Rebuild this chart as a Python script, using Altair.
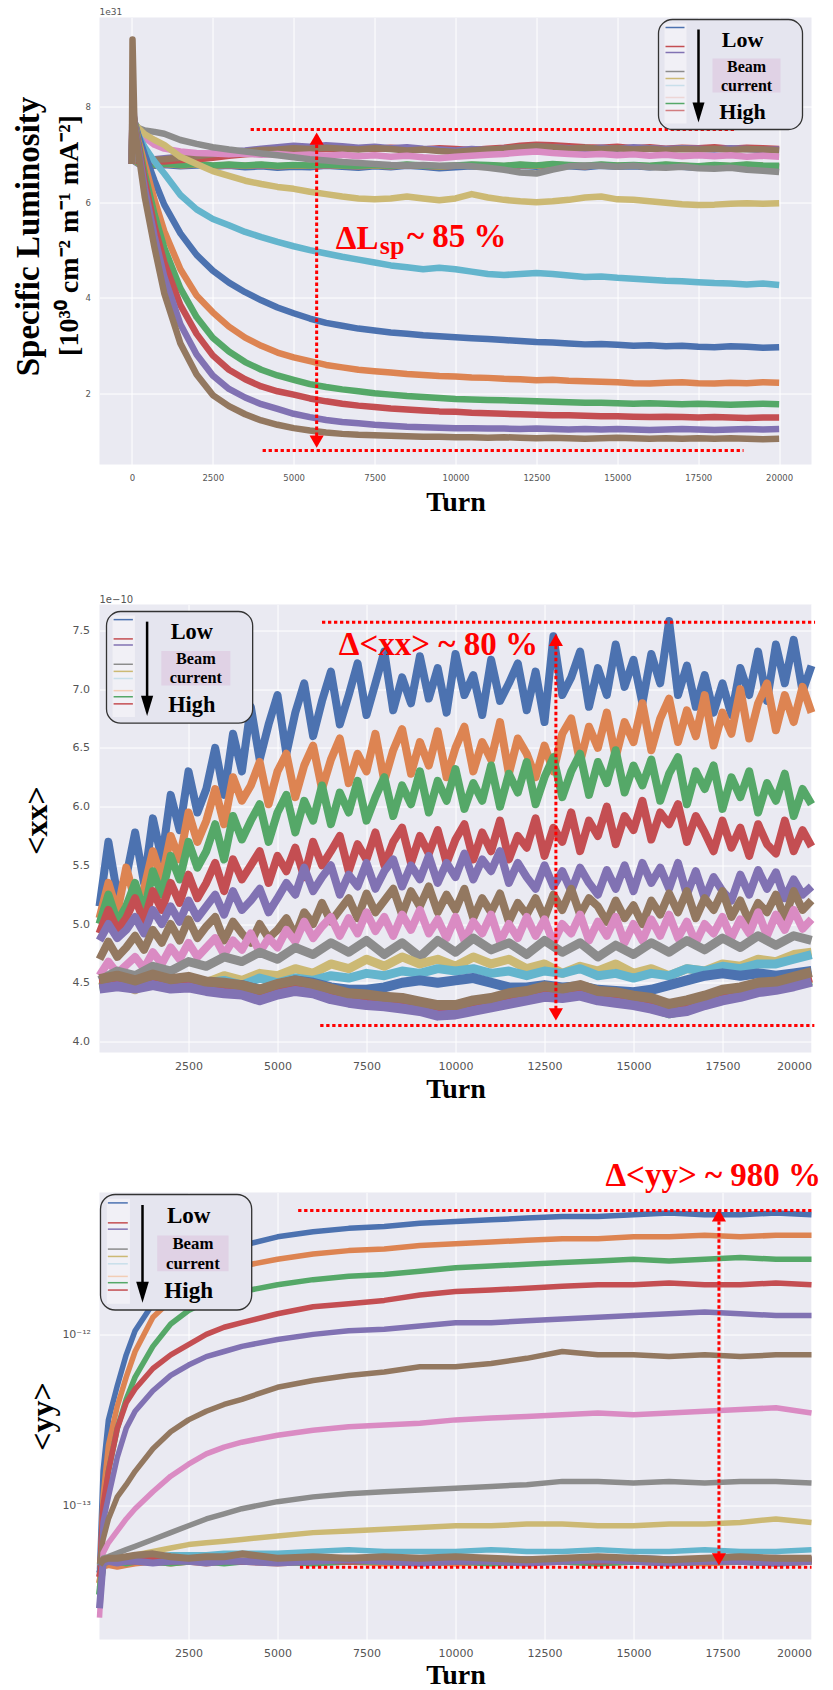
import altair as alt
import pandas as pd

# ---------------------------------------------------------------- styling
C = {
    "blue": "#4C72B0", "orange": "#DD8452", "green": "#55A868", "red": "#C44E52",
    "purple": "#8172B3", "brown": "#937860", "pink": "#DA8BC3", "gray": "#8C8C8C",
    "olive": "#CCB974", "cyan": "#64B5CD",
}
FACE = "#EAEAF2"
RED = "#FF0000"
SERIF = "Liberation Serif"
SANS = "DejaVu Sans"
TICK_GREY = "#555555"

W = 712
H1, H2, H3 = 447, 448, 447

# ---------------------------------------------------------------- panel 1: specific luminosity (x 1e31)
T1 = [0, 20, 80, 200, 400, 700, 1000, 1500, 2000, 2500, 3000, 3500,
      4000, 4500, 5000, 5500, 6000, 6500, 7000, 7500, 8000, 8500, 9000, 9500,
      10000, 10500, 11000, 11500, 12000, 12500, 13000, 13500, 14000, 14500,
      15000, 15500, 16000, 16500, 17000, 17500, 18000, 18500, 19000, 19500, 20000]

LSP_C_BLUE = [6.80, 7.20, 6.85, 6.80, 6.78, 6.76, 6.78, 6.75, 6.77, 6.74,
              6.76, 6.73, 6.75, 6.72, 6.74, 6.73, 6.76, 6.74, 6.72, 6.75,
              6.73, 6.76, 6.74, 6.71, 6.73, 6.75, 6.74, 6.72, 6.76, 6.74,
              6.77, 6.75, 6.73, 6.76, 6.74, 6.75, 6.73, 6.76, 6.74, 6.72,
              6.75, 6.73, 6.76, 6.74, 6.73]
LSP_C_ORANGE = [6.80, 7.40, 6.86, 6.81, 6.79, 6.78, 6.80, 6.77, 6.79, 6.76,
                6.78, 6.76, 6.78, 6.75, 6.77, 6.76, 6.78, 6.76, 6.75, 6.77,
                6.75, 6.78, 6.76, 6.74, 6.76, 6.78, 6.77, 6.75, 6.78, 6.76,
                6.79, 6.77, 6.75, 6.78, 6.76, 6.77, 6.75, 6.78, 6.76, 6.74,
                6.77, 6.75, 6.78, 6.76, 6.75]
LSP_C_GREEN = [6.80, 7.50, 6.88, 6.82, 6.80, 6.79, 6.81, 6.78, 6.80, 6.77,
               6.79, 6.77, 6.79, 6.76, 6.78, 6.77, 6.79, 6.77, 6.76, 6.78,
               6.76, 6.79, 6.77, 6.75, 6.77, 6.79, 6.78, 6.76, 6.79, 6.77,
               6.80, 6.78, 6.76, 6.79, 6.77, 6.78, 6.76, 6.79, 6.77, 6.75,
               6.78, 6.76, 6.79, 6.77, 6.76]
LSP_C_RED = [6.80, 8.00, 6.90, 6.85, 6.84, 6.86, 6.85, 6.88, 6.90, 6.93,
             6.97, 7.00, 7.03, 7.05, 7.08, 7.10, 7.12, 7.10, 7.13, 7.11,
             7.14, 7.12, 7.10, 7.13, 7.11, 7.09, 7.12, 7.14, 7.18, 7.20,
             7.19, 7.17, 7.15, 7.14, 7.16, 7.13, 7.15, 7.12, 7.14, 7.13,
             7.15, 7.12, 7.14, 7.13, 7.11]
LSP_C_PURPLE = [6.80, 7.60, 6.95, 6.90, 6.88, 6.90, 6.92, 6.95, 6.98, 7.02,
                7.05, 7.08, 7.12, 7.15, 7.18, 7.16, 7.19, 7.17, 7.14, 7.16,
                7.13, 7.15, 7.12, 7.10, 7.08, 7.11, 7.09, 7.12, 7.14, 7.16,
                7.15, 7.13, 7.11, 7.14, 7.12, 7.15, 7.13, 7.11, 7.13, 7.12,
                7.10, 7.13, 7.11, 7.09, 7.10]
LSP_C_BROWN = [6.80, 7.80, 6.92, 6.88, 6.87, 6.89, 6.90, 6.93, 6.96, 7.00,
               7.03, 7.06, 7.09, 7.10, 7.13, 7.11, 7.14, 7.12, 7.10, 7.13,
               7.11, 7.08, 7.10, 7.07, 7.05, 7.08, 7.10, 7.12, 7.15, 7.17,
               7.15, 7.12, 7.14, 7.11, 7.13, 7.10, 7.12, 7.09, 7.11, 7.10,
               7.12, 7.09, 7.11, 7.10, 7.08]
LSP_PINK = [6.80, 7.70, 7.60, 7.50, 7.35, 7.20, 7.12, 7.06, 7.03, 7.02,
            7.00, 7.02, 6.99, 7.01, 6.98, 7.00, 6.97, 6.99, 6.96, 6.98,
            6.95, 6.97, 6.94, 6.92, 6.95, 6.97, 6.99, 7.01, 7.04, 7.06,
            7.03, 7.01, 6.99, 7.01, 6.98, 7.00, 6.97, 6.99, 6.96, 6.98,
            6.96, 6.98, 6.95, 6.97, 6.95]
LSP_GRAY = [6.80, 7.70, 7.65, 7.55, 7.50, 7.47, 7.43, 7.30, 7.22, 7.15,
            7.10, 7.06, 7.02, 6.98, 6.94, 6.90, 6.87, 6.84, 6.82, 6.80,
            6.78, 6.77, 6.78, 6.76, 6.77, 6.75, 6.72, 6.68, 6.62, 6.60,
            6.68, 6.75, 6.77, 6.76, 6.74, 6.76, 6.73, 6.72, 6.74, 6.71,
            6.70, 6.72, 6.68, 6.66, 6.63]
LSP_OLIVE = [6.80, 7.75, 7.65, 7.55, 7.42, 7.30, 7.20, 6.95, 6.80, 6.65,
             6.55, 6.45, 6.38, 6.32, 6.28, 6.22, 6.17, 6.12, 6.08, 6.06,
             6.08, 6.12, 6.08, 6.04, 6.08, 6.17, 6.10, 6.05, 6.02, 6.00,
             6.02, 6.05, 6.10, 6.12, 6.06, 6.05, 6.02, 5.99, 5.96, 5.94,
             5.95, 5.97, 5.98, 5.97, 5.98]
LSP_CYAN = [6.80, 7.75, 7.60, 7.40, 7.15, 6.85, 6.60, 6.15, 5.85, 5.65,
            5.52, 5.38, 5.27, 5.17, 5.08, 5.00, 4.93, 4.86, 4.80, 4.74,
            4.68, 4.64, 4.60, 4.63, 4.60, 4.55, 4.50, 4.48, 4.50, 4.52,
            4.50, 4.47, 4.44, 4.45, 4.42, 4.40, 4.38, 4.36, 4.35, 4.33,
            4.31, 4.30, 4.28, 4.30, 4.27]
LSP_BLUE = [6.80, 8.00, 7.70, 7.40, 7.00, 6.45, 5.95, 5.35, 4.90, 4.57,
            4.32, 4.12, 3.95, 3.80, 3.68, 3.57, 3.48, 3.42, 3.36, 3.32,
            3.28, 3.25, 3.22, 3.20, 3.18, 3.16, 3.14, 3.12, 3.10, 3.08,
            3.07, 3.05, 3.03, 3.04, 3.02, 3.00, 3.01, 2.99, 3.00, 2.98,
            2.97, 2.99, 2.98, 2.96, 2.97]
LSP_ORANGE = [6.80, 8.00, 7.70, 7.30, 6.80, 6.05, 5.40, 4.60, 4.05, 3.70,
              3.40, 3.17, 3.00, 2.86, 2.76, 2.68, 2.60, 2.55, 2.50, 2.47,
              2.44, 2.41, 2.39, 2.37, 2.36, 2.34, 2.33, 2.31, 2.30, 2.28,
              2.29, 2.27, 2.26, 2.25, 2.24, 2.22, 2.21, 2.23, 2.24, 2.22,
              2.21, 2.23, 2.22, 2.24, 2.23]
LSP_GREEN = [6.80, 7.90, 7.70, 7.25, 6.60, 5.75, 5.05, 4.20, 3.60, 3.17,
             2.88, 2.66, 2.50, 2.38, 2.29, 2.20, 2.14, 2.09, 2.05, 2.01,
             1.98, 1.95, 1.93, 1.91, 1.89, 1.88, 1.87, 1.86, 1.85, 1.84,
             1.83, 1.82, 1.81, 1.81, 1.80, 1.79, 1.80, 1.79, 1.78, 1.79,
             1.78, 1.77, 1.78, 1.79, 1.78]
LSP_RED = [6.80, 8.00, 7.65, 7.20, 6.45, 5.50, 4.75, 3.85, 3.25, 2.80,
           2.50, 2.30, 2.15, 2.05, 1.98, 1.90, 1.84, 1.79, 1.75, 1.72,
           1.69, 1.67, 1.65, 1.63, 1.62, 1.60, 1.59, 1.58, 1.57, 1.56,
           1.55, 1.55, 1.54, 1.53, 1.53, 1.52, 1.51, 1.52, 1.51, 1.50,
           1.51, 1.50, 1.49, 1.50, 1.50]
LSP_PURPLE = [6.80, 8.30, 7.65, 7.15, 6.30, 5.30, 4.45, 3.45, 2.82, 2.38,
              2.10, 1.92, 1.78, 1.68, 1.58, 1.51, 1.45, 1.41, 1.38, 1.35,
              1.33, 1.31, 1.30, 1.29, 1.28, 1.28, 1.27, 1.27, 1.26, 1.27,
              1.26, 1.25, 1.26, 1.25, 1.26, 1.25, 1.24, 1.25, 1.26, 1.25,
              1.24, 1.25, 1.26, 1.25, 1.26]
LSP_BROWN = [6.80, 9.40, 7.60, 7.05, 6.10, 5.05, 4.10, 3.05, 2.40, 1.97,
             1.74, 1.57, 1.44, 1.35, 1.28, 1.23, 1.19, 1.16, 1.14, 1.13,
             1.12, 1.11, 1.10, 1.10, 1.09, 1.09, 1.08, 1.09, 1.08, 1.07,
             1.08, 1.07, 1.06, 1.07, 1.08, 1.07, 1.06, 1.07, 1.06, 1.07,
             1.06, 1.07, 1.06, 1.05, 1.06]

# ---------------------------------------------------------------- panel 2: <xx> (x 1e-10)
T_FINE = list(range(0, 20001, 250))
T_COARSE = list(range(0, 20001, 500))

XX_BLUE = [5.15, 5.70, 5.25, 5.40, 5.78, 5.35, 5.90, 5.55, 6.10, 5.80,
           6.30, 5.95, 6.15, 6.50, 6.10, 6.62, 6.30, 6.85, 6.40, 6.70,
           6.95, 6.45, 6.80, 7.05, 6.60, 6.90, 7.15, 6.70, 6.95, 7.22,
           6.78, 7.05, 7.32, 6.82, 7.10, 6.88, 7.28, 6.92, 7.18, 6.80,
           7.30, 6.95, 7.12, 6.78, 7.25, 6.90, 7.05, 7.22, 6.82, 7.15,
           6.72, 7.45, 6.95, 7.10, 7.32, 6.85, 7.18, 6.95, 7.38, 7.02,
           7.25, 6.88, 7.30, 7.05, 7.58, 6.95, 7.20, 6.85, 7.12, 6.80,
           7.05, 6.78, 7.18, 6.95, 7.32, 6.90, 7.38, 7.05, 7.42, 6.98,
           7.20]
XX_ORANGE = [5.05, 5.35, 5.10, 5.48, 5.20, 5.30, 5.62, 5.38, 5.75, 5.55,
             5.95, 5.70, 5.88, 6.15, 5.85, 6.25, 6.05, 6.18, 6.38, 6.02,
             6.30, 6.45, 6.08, 6.35, 6.52, 6.15, 6.40, 6.58, 6.20, 6.45,
             6.30, 6.62, 6.22, 6.48, 6.66, 6.28, 6.55, 6.35, 6.64, 6.25,
             6.50, 6.68, 6.30, 6.55, 6.40, 6.72, 6.28, 6.58, 6.45, 6.25,
             6.52, 6.30, 6.62, 6.75, 6.38, 6.68, 6.50, 6.80, 6.42, 6.72,
             6.55, 6.88, 6.48, 6.75, 6.92, 6.55, 6.82, 6.60, 6.95, 6.52,
             6.80, 6.62, 7.00, 6.58, 6.88, 7.05, 6.65, 6.95, 6.72, 7.02,
             6.80]
XX_GREEN = [5.00, 5.25, 5.02, 5.15, 5.35, 5.10, 5.45, 5.25, 5.58, 5.38,
            5.70, 5.48, 5.62, 5.85, 5.55, 5.92, 5.72, 5.88, 6.02, 5.70,
            5.95, 6.10, 5.78, 6.05, 5.88, 6.18, 5.85, 6.12, 5.95, 6.22,
            5.88, 6.08, 6.25, 5.92, 6.18, 6.02, 6.30, 5.95, 6.22, 6.05,
            6.32, 5.98, 6.20, 6.05, 6.35, 6.00, 6.28, 6.12, 6.38, 6.02,
            6.25, 6.42, 6.08, 6.30, 6.45, 6.10, 6.38, 6.20, 6.48, 6.12,
            6.35, 6.18, 6.40, 6.05, 6.28, 6.42, 6.02, 6.30, 6.15, 6.35,
            5.98, 6.25, 6.08, 6.30, 5.95, 6.20, 6.05, 6.28, 5.92, 6.15,
            6.02]
XX_RED = [4.92, 5.12, 4.95, 5.05, 5.22, 5.02, 5.28, 5.12, 5.35, 5.18,
          5.42, 5.22, 5.35, 5.52, 5.28, 5.55, 5.38, 5.50, 5.62, 5.35,
          5.58, 5.45, 5.65, 5.40, 5.70, 5.50, 5.62, 5.75, 5.45, 5.68,
          5.55, 5.78, 5.50, 5.70, 5.82, 5.52, 5.75, 5.60, 5.80, 5.52,
          5.72, 5.85, 5.55, 5.78, 5.62, 5.88, 5.55, 5.75, 5.65, 5.90,
          5.58, 5.82, 5.70, 5.95, 5.62, 5.88, 5.75, 6.00, 5.68, 5.92,
          5.80, 6.05, 5.72, 5.95, 5.85, 6.02, 5.70, 5.92, 5.78, 5.62,
          5.88, 5.65, 5.82, 5.58, 5.85, 5.68, 5.60, 5.88, 5.62, 5.80,
          5.66]
XX_PURPLE = [4.86, 5.00, 4.88, 4.95, 5.06, 4.92, 5.12, 5.00, 5.15, 5.02,
             5.20, 5.05, 5.15, 5.25, 5.08, 5.28, 5.12, 5.20, 5.30, 5.10,
             5.22, 5.35, 5.25, 5.48, 5.28, 5.40, 5.50, 5.25, 5.42, 5.32,
             5.52, 5.30, 5.45, 5.55, 5.32, 5.50, 5.38, 5.58, 5.35, 5.52,
             5.40, 5.60, 5.38, 5.55, 5.45, 5.62, 5.35, 5.52, 5.40, 5.30,
             5.50, 5.32, 5.45, 5.28, 5.48, 5.35, 5.25, 5.46, 5.30, 5.50,
             5.28, 5.52, 5.35, 5.48, 5.30, 5.52, 5.25, 5.45, 5.22, 5.40,
             5.28, 5.20, 5.42, 5.25, 5.46, 5.30, 5.44, 5.22, 5.38, 5.25,
             5.32]
XX_BROWN = [4.70, 4.85, 4.72, 4.80, 4.90, 4.78, 4.95, 4.84, 5.00, 4.86,
            5.04, 4.88, 4.98, 5.06, 4.86, 5.02, 4.92, 4.84, 5.00, 4.88,
            4.95, 5.05, 4.90, 5.10, 5.00, 5.18, 5.02, 5.12, 5.22, 5.05,
            5.26, 5.10, 5.20, 5.30, 5.08, 5.28, 5.15, 5.32, 5.10, 5.25,
            5.12, 5.30, 5.05, 5.22, 5.10, 5.26, 5.02, 5.18, 5.08, 5.22,
            5.05, 5.25, 5.12, 5.30, 5.08, 5.22, 5.15, 5.02, 5.20, 5.05,
            5.16, 5.00, 5.20, 5.08, 5.26, 5.10, 5.28, 5.05, 5.22, 5.12,
            5.28, 5.06, 5.20, 5.02, 5.18, 5.10, 5.25, 5.05, 5.28, 5.12,
            5.20]
XX_PINK = [4.56, 4.68, 4.58, 4.65, 4.72, 4.62, 4.76, 4.66, 4.80, 4.70,
           4.84, 4.72, 4.80, 4.88, 4.74, 4.86, 4.78, 4.92, 4.76, 4.88,
           4.80, 4.95, 4.85, 5.02, 4.88, 4.98, 5.06, 4.90, 5.05, 4.92,
           5.10, 4.94, 5.06, 4.90, 5.08, 4.95, 5.12, 4.92, 5.04, 4.88,
           5.06, 4.86, 5.02, 4.92, 5.08, 4.85, 5.00, 4.88, 5.06, 4.90,
           5.04, 4.84, 5.00, 4.92, 5.08, 4.86, 5.02, 4.90, 5.06, 4.84,
           5.00, 4.86, 5.04, 4.90, 5.08, 4.88, 5.02, 4.84, 5.00, 4.92,
           5.06, 4.88, 5.04, 4.92, 5.10, 4.90, 5.08, 4.95, 5.12, 4.96,
           5.04]
XX_GRAY = [4.52, 4.60, 4.56, 4.64, 4.60, 4.68, 4.64, 4.72, 4.68, 4.76,
           4.70, 4.80, 4.74, 4.84, 4.76, 4.86, 4.74, 4.84, 4.72, 4.86,
           4.76, 4.88, 4.78, 4.84, 4.74, 4.86, 4.76, 4.84, 4.72, 4.82,
           4.74, 4.84, 4.76, 4.86, 4.78, 4.88, 4.80, 4.90, 4.82, 4.90,
           4.86]
XX_OLIVE = [4.46, 4.50, 4.44, 4.52, 4.48, 4.54, 4.50, 4.56, 4.52, 4.58,
            4.56, 4.62, 4.58, 4.66, 4.62, 4.70, 4.64, 4.72, 4.66, 4.70,
            4.64, 4.72, 4.66, 4.70, 4.62, 4.66, 4.58, 4.64, 4.60, 4.66,
            4.58, 4.62, 4.56, 4.62, 4.60, 4.66, 4.64, 4.70, 4.68, 4.74,
            4.76]
XX_CYAN = [4.48, 4.50, 4.46, 4.52, 4.48, 4.54, 4.50, 4.52, 4.48, 4.54,
           4.50, 4.54, 4.52, 4.56, 4.54, 4.58, 4.56, 4.60, 4.58, 4.62,
           4.60, 4.62, 4.58, 4.60, 4.56, 4.60, 4.58, 4.62, 4.56, 4.58,
           4.54, 4.58, 4.56, 4.62, 4.60, 4.64, 4.62, 4.66, 4.66, 4.70,
           4.74]
XX_C_BLUE = [4.50, 4.52, 4.50, 4.53, 4.50, 4.51, 4.49, 4.47, 4.48, 4.44,
             4.48, 4.52, 4.50, 4.46, 4.44, 4.44, 4.46, 4.50, 4.52, 4.50,
             4.52, 4.54, 4.50, 4.46, 4.46, 4.48, 4.46, 4.47, 4.44, 4.43,
             4.42, 4.44, 4.48, 4.52, 4.56, 4.58, 4.56, 4.58, 4.56, 4.58,
             4.60]
XX_C_ORANGE = [4.48, 4.50, 4.47, 4.50, 4.48, 4.49, 4.46, 4.44, 4.43, 4.38,
               4.43, 4.46, 4.44, 4.39, 4.36, 4.34, 4.33, 4.31, 4.29, 4.25,
               4.26, 4.29, 4.32, 4.35, 4.38, 4.41, 4.42, 4.43, 4.38, 4.36,
               4.34, 4.31, 4.27, 4.29, 4.34, 4.38, 4.41, 4.44, 4.46, 4.50,
               4.54]
XX_C_GREEN = [4.46, 4.48, 4.46, 4.49, 4.46, 4.47, 4.44, 4.42, 4.41, 4.36,
              4.41, 4.44, 4.42, 4.37, 4.34, 4.32, 4.31, 4.29, 4.27, 4.23,
              4.24, 4.27, 4.30, 4.33, 4.36, 4.39, 4.38, 4.40, 4.36, 4.34,
              4.32, 4.29, 4.24, 4.27, 4.32, 4.36, 4.39, 4.43, 4.45, 4.48,
              4.52]
XX_C_RED = [4.49, 4.51, 4.49, 4.52, 4.49, 4.50, 4.47, 4.45, 4.44, 4.39,
            4.44, 4.47, 4.45, 4.40, 4.37, 4.35, 4.34, 4.32, 4.30, 4.26,
            4.27, 4.30, 4.33, 4.36, 4.39, 4.42, 4.41, 4.43, 4.39, 4.37,
            4.35, 4.32, 4.28, 4.30, 4.35, 4.39, 4.42, 4.45, 4.47, 4.51,
            4.55]
XX_C_PURPLE = [4.45, 4.47, 4.45, 4.48, 4.45, 4.46, 4.43, 4.41, 4.40, 4.35,
               4.40, 4.43, 4.41, 4.36, 4.33, 4.31, 4.30, 4.28, 4.26, 4.22,
               4.23, 4.26, 4.29, 4.32, 4.35, 4.38, 4.37, 4.39, 4.35, 4.33,
               4.31, 4.28, 4.24, 4.26, 4.31, 4.35, 4.38, 4.42, 4.44, 4.47,
               4.51]
XX_C_BROWN = [4.53, 4.56, 4.52, 4.57, 4.53, 4.55, 4.51, 4.50, 4.48, 4.44,
              4.49, 4.52, 4.49, 4.45, 4.41, 4.40, 4.38, 4.37, 4.34, 4.31,
              4.31, 4.35, 4.37, 4.41, 4.43, 4.47, 4.45, 4.48, 4.43, 4.42,
              4.39, 4.37, 4.32, 4.35, 4.39, 4.44, 4.46, 4.50, 4.51, 4.55,
              4.59]

# ---------------------------------------------------------------- panel 3: <yy>, in units of 1e-13
T3 = [0, 100, 250, 500, 750, 1000, 1500, 2000, 2500, 3000, 3500, 4000, 5000,
      6000, 7000, 8000, 9000, 10000, 11000, 12000, 13000, 14000, 15000, 16000,
      17000, 18000, 19000, 20000]
YY_UNIT = 1e-13

YY_BLUE = [0.42, 1.58, 3.16, 5.01, 7.59, 10.5, 15.1, 20.0, 24.0, 27.5, 30.2, 33.1, 37.2, 39.8,
           41.7, 42.7, 44.7, 45.7, 46.8, 47.9, 49.0, 49.0, 50.1, 51.3, 50.1, 50.1, 51.3, 50.1]
YY_ORANGE = [0.35, 1.12, 2.24, 3.80, 5.62, 7.94, 12.6, 15.8, 19.1, 21.9, 23.4, 25.1, 27.5, 29.5,
             30.9, 31.6, 33.1, 33.9, 34.7, 35.5, 36.3, 36.3, 37.2, 37.2, 38.0, 37.2, 38.0, 38.0]
YY_GREEN = [0.30, 0.891, 1.58, 2.82, 4.17, 5.62, 8.51, 11.5, 13.8, 15.5, 16.6, 17.8, 19.5, 20.9,
            21.9, 22.4, 23.4, 24.5, 25.1, 25.7, 26.3, 26.9, 27.5, 26.9, 27.5, 28.2, 27.5, 27.5]
YY_RED = [0.38, 1.00, 1.58, 2.82, 3.98, 4.79, 6.31, 7.59, 8.71, 10.0, 11.0, 11.7, 13.2, 14.5,
          15.1, 15.8, 17.0, 17.8, 18.2, 18.6, 19.1, 19.5, 19.5, 20.0, 19.5, 19.5, 20.0, 19.5]
YY_PURPLE = [0.25, 0.794, 1.12, 1.91, 2.82, 3.55, 4.68, 5.75, 6.61, 7.41, 7.94, 8.51, 9.33, 10.0,
             10.5, 10.7, 11.2, 11.7, 11.7, 12.0, 12.3, 12.6, 12.9, 13.2, 13.5, 13.2, 12.9, 12.9]
YY_BROWN = [0.45, 0.631, 0.832, 1.12, 1.32, 1.58, 2.14, 2.69, 3.16, 3.55, 3.89, 4.17, 4.90, 5.37,
            5.75, 6.03, 6.46, 6.46, 6.76, 7.24, 7.94, 7.59, 7.59, 7.41, 7.59, 7.41, 7.59, 7.59]
YY_PINK = [0.22, 0.525, 0.603, 0.708, 0.832, 0.955, 1.20, 1.48, 1.74, 2.00, 2.19, 2.34, 2.57, 2.75,
           2.88, 2.95, 3.02, 3.16, 3.24, 3.31, 3.39, 3.47, 3.39, 3.47, 3.55, 3.63, 3.72, 3.47]
YY_GRAY = [0.40, 0.490, 0.501, 0.525, 0.550, 0.575, 0.631, 0.692, 0.759, 0.832, 0.891, 0.955, 1.05,
           1.12, 1.17, 1.20, 1.23, 1.26, 1.29, 1.32, 1.38, 1.38, 1.35, 1.38, 1.35, 1.38, 1.38, 1.35]
YY_OLIVE = [0.33, 0.479, 0.490, 0.490, 0.501, 0.513, 0.537, 0.562, 0.589, 0.603, 0.617, 0.631,
            0.661, 0.692, 0.708, 0.724, 0.741, 0.759, 0.759, 0.776, 0.776, 0.759, 0.759, 0.776,
            0.776, 0.794, 0.832, 0.794]
YY_CYAN = [0.44, 0.479, 0.490, 0.490, 0.501, 0.501, 0.501, 0.513, 0.513, 0.513, 0.525, 0.525,
           0.525, 0.537, 0.550, 0.537, 0.537, 0.537, 0.550, 0.537, 0.537, 0.550, 0.537, 0.537,
           0.550, 0.537, 0.537, 0.550]
YY_C_BLUE = [0.40, 0.47, 0.48, 0.47, 0.48, 0.49, 0.48, 0.47, 0.48, 0.49, 0.48, 0.47, 0.48, 0.48,
             0.49, 0.48, 0.47, 0.49, 0.48, 0.48, 0.47, 0.48, 0.49, 0.48, 0.47, 0.48, 0.49, 0.48]
YY_C_ORANGE = [0.35, 0.44, 0.45, 0.44, 0.45, 0.46, 0.47, 0.46, 0.47, 0.46, 0.47, 0.47, 0.46, 0.47,
               0.47, 0.46, 0.47, 0.46, 0.47, 0.46, 0.47, 0.46, 0.47, 0.47, 0.46, 0.47, 0.46, 0.47]
YY_C_GREEN = [0.30, 0.46, 0.47, 0.47, 0.46, 0.47, 0.47, 0.46, 0.47, 0.47, 0.46, 0.47, 0.47, 0.46,
              0.47, 0.47, 0.46, 0.47, 0.46, 0.47, 0.47, 0.46, 0.47, 0.46, 0.47, 0.47, 0.46, 0.47]
YY_C_RED = [0.38, 0.47, 0.47, 0.48, 0.47, 0.47, 0.48, 0.47, 0.48, 0.47, 0.48, 0.47, 0.47, 0.48,
            0.47, 0.48, 0.47, 0.47, 0.48, 0.47, 0.48, 0.47, 0.48, 0.47, 0.47, 0.48, 0.47, 0.48]
YY_C_PURPLE = [0.25, 0.46, 0.47, 0.46, 0.47, 0.47, 0.46, 0.47, 0.47, 0.46, 0.47, 0.47, 0.46, 0.47,
               0.48, 0.47, 0.46, 0.47, 0.47, 0.46, 0.47, 0.48, 0.47, 0.46, 0.47, 0.47, 0.46, 0.47]
YY_C_BROWN = [0.45, 0.48, 0.49, 0.49, 0.50, 0.51, 0.52, 0.50, 0.49, 0.50, 0.50, 0.52, 0.49, 0.50,
              0.49, 0.50, 0.49, 0.50, 0.49, 0.48, 0.49, 0.50, 0.49, 0.48, 0.49, 0.50, 0.49, 0.49]

# swatch colours shown in the "beam current" keys
KEY_SWATCH_1 = ["#4C72B0", "#C44E52", "#8172B3", "#8C8C8C", "#CCB974",
                "#C8DFEA", "#EDD6D6", "#55A868", "#D27D80"]
KEY_SWATCH_23 = ["#4C72B0", "#C44E52", "#8172B3", "#8C8C8C", "#CCB974",
                 "#C8DFEA", "#F2CDB5", "#55A868", "#C44E52"]
KEY_SWATCH_Y = [8, 27, 33, 52, 59, 66, 78, 84, 91]

ONE = pd.DataFrame({"k": [0]})


# ---------------------------------------------------------------- helpers
class Frame:
    """Shared x/y scales and axes of one panel; every field-encoded layer reuses them."""

    def __init__(self, xs, ys, ax, ay):
        self.xs, self.ys, self.ax, self.ay = xs, ys, ax, ay

    def x(self, field="turn"):
        return alt.X(f"{field}:Q", scale=self.xs, axis=self.ax)

    def y(self, field="value"):
        return alt.Y(f"{field}:Q", scale=self.ys, axis=self.ay)


def series_frame(series, unit=1.0):
    rows = []
    for i, (name, colour, turns, vals) in enumerate(series):
        if len(turns) != len(vals):
            raise ValueError(f"{name}: {len(turns)} turns but {len(vals)} values")
        for t, v in zip(turns, vals):
            rows.append({"turn": t, "value": v * unit, "sid": f"{i:02d}-{name}", "hex": colour})
    return pd.DataFrame(rows)


def line_layer(fr, series, width, unit=1.0):
    return alt.Chart(series_frame(series, unit)).mark_line(
        strokeWidth=width, strokeJoin="round"
    ).encode(
        x=fr.x(), y=fr.y(),
        color=alt.Color("hex:N", scale=None),
        detail="sid:N",
    )


def h_dotted(fr, t0, t1, v):
    df = pd.DataFrame({"turn": [t0], "turn2": [t1], "value": [v]})
    return alt.Chart(df).mark_rule(color=RED, strokeWidth=3, strokeDash=[3.3, 2.7]).encode(
        x=fr.x(), x2="turn2:Q", y=fr.y())


def v_arrow(fr, t, v_top, v_bot):
    df = pd.DataFrame({"turn": [t], "value": [v_top], "value2": [v_bot]})
    shaft = alt.Chart(df).mark_rule(color=RED, strokeWidth=3, strokeDash=[3.3, 2.7]).encode(
        x=fr.x(), y=fr.y(), y2="value2:Q")
    up = alt.Chart(pd.DataFrame({"turn": [t], "value": [v_top]})).mark_point(
        shape="triangle-up", filled=True, color=RED, size=200, opacity=1).encode(
        x=fr.x(), y=fr.y())
    down = alt.Chart(pd.DataFrame({"turn": [t], "value": [v_bot]})).mark_point(
        shape="triangle-down", filled=True, color=RED, size=200, opacity=1).encode(
        x=fr.x(), y=fr.y())
    return [shaft, up, down]


def red_label(fr, text, t, v, size=33, align="center", baseline="middle", ypix=None):
    df = pd.DataFrame({"turn": [t], "value": [v]})
    y_enc = alt.value(ypix) if ypix is not None else fr.y()
    return alt.Chart(df).mark_text(
        text=text, font=SERIF, fontWeight="bold", fontSize=size, color=RED,
        align=align, baseline=baseline).encode(x=fr.x(), y=y_enc)


def pixel_text(text, x, y, size, angle=0, colour="black", weight="bold", font=SERIF,
               align="center", baseline="middle"):
    return alt.Chart(ONE).mark_text(
        text=text, font=font, fontWeight=weight, fontSize=size, color=colour,
        angle=angle, align=align, baseline=baseline).encode(x=alt.value(x), y=alt.value(y))


def beam_key(ox, oy, s, swatches):
    def X(v):
        return alt.value(ox + v * s)

    def Y(v):
        return alt.value(oy + v * s)

    parts = [
        alt.Chart(ONE).mark_rect(cornerRadius=14 * s, fill="#E5E5EF", stroke="#333333",
                                 strokeWidth=1.3).encode(x=X(0), x2=X(144), y=Y(0), y2=Y(110)),
        alt.Chart(ONE).mark_rect(fill="#F1F0F6").encode(x=X(6), x2=X(28), y=Y(4), y2=Y(104)),
        alt.Chart(ONE).mark_rect(fill="#E0D2E5").encode(x=X(54), x2=X(122), y=Y(39), y2=Y(73)),
    ]
    for yy, col in zip(KEY_SWATCH_Y, swatches):
        parts.append(alt.Chart(ONE).mark_rule(color=col, strokeWidth=1.5).encode(
            x=X(7), x2=X(26), y=Y(yy)))
    parts.append(alt.Chart(ONE).mark_rule(color="black", strokeWidth=2.5).encode(
        x=X(40), y=Y(10), y2=Y(90)))
    parts.append(alt.Chart(ONE).mark_point(
        shape="M-0.6,-1L0.6,-1L0,1Z", filled=True, color="black", opacity=1,
        size=400 * s * s).encode(x=X(40), y=Y(93)))
    parts += [
        pixel_text("Low", ox + 84 * s, oy + 20 * s, 22 * s),
        pixel_text("Beam", ox + 88 * s, oy + 47 * s, 16 * s),
        pixel_text("current", ox + 88 * s, oy + 66 * s, 16 * s),
        pixel_text("High", ox + 84 * s, oy + 92 * s, 22 * s),
    ]
    return parts


def turn_axis(values, size, title_y, label_pad=8):
    return alt.Axis(values=values, format="d", title="Turn", titleFont=SERIF,
                    titleFontSize=28, titleFontWeight="bold", titleColor="black",
                    titleY=title_y, titleBaseline="middle",
                    labelFont=SANS, labelFontSize=size, labelColor=TICK_GREY,
                    labelPadding=label_pad, grid=True, gridColor="white", gridWidth=1,
                    domain=False, ticks=False)


def value_axis(values, size, fmt=None, label_expr=None, label_pad=9):
    kw = dict(values=values, title=None, labelFont=SANS, labelFontSize=size,
              labelColor=TICK_GREY, labelPadding=label_pad, grid=True, gridColor="white",
              gridWidth=1, domain=False, ticks=False)
    if fmt:
        kw["format"] = fmt
    if label_expr:
        kw["labelExpr"] = label_expr
    return alt.Axis(**kw)


TURN_TICKS = list(range(2500, 20001, 2500))

# ---------------------------------------------------------------- panel 1
F1 = Frame(
    alt.Scale(domain=[-1000, 21000], nice=False, zero=False),
    alt.Scale(domain=[0.52, 9.86], nice=False, zero=False),
    turn_axis(list(range(0, 20001, 2500)), 8.5, 38, 9),
    value_axis([2, 4, 6, 8], 8.5, fmt="d", label_pad=9),
)

P1_SERIES = [
    ("blue-lo", C["blue"], T1, LSP_C_BLUE), ("orange-lo", C["orange"], T1, LSP_C_ORANGE),
    ("green-lo", C["green"], T1, LSP_C_GREEN), ("red-lo", C["red"], T1, LSP_C_RED),
    ("purple-lo", C["purple"], T1, LSP_C_PURPLE), ("brown-lo", C["brown"], T1, LSP_C_BROWN),
    ("pink", C["pink"], T1, LSP_PINK), ("gray", C["gray"], T1, LSP_GRAY),
    ("olive", C["olive"], T1, LSP_OLIVE), ("cyan", C["cyan"], T1, LSP_CYAN),
    ("blue", C["blue"], T1, LSP_BLUE), ("orange", C["orange"], T1, LSP_ORANGE),
    ("green", C["green"], T1, LSP_GREEN), ("red", C["red"], T1, LSP_RED),
    ("purple", C["purple"], T1, LSP_PURPLE), ("brown", C["brown"], T1, LSP_BROWN),
]

p1_layers = [
    line_layer(F1, P1_SERIES, 6.5),
    h_dotted(F1, 3670, 18640, 7.52),
    h_dotted(F1, 4040, 18900, 0.81),
    *v_arrow(F1, 5710, 7.33, 1.00),
    red_label(F1, "ΔL", 6300, 5.23, size=33, align="left"),
    red_label(F1, "sp", 7660, 5.08, size=26, align="left"),
    red_label(F1, "~ 85 %", 8500, 5.27, size=33, align="left"),
    pixel_text("1e31", 0, -6, 9, colour=TICK_GREY, weight="normal", font=SANS, align="left"),
    pixel_text("Specific Luminosity", -71, 219, 33, angle=270),
    pixel_text("[10³⁰ cm⁻² m⁻¹ mA⁻²]", -30, 218, 28, angle=270),
    *beam_key(559, 2, 1.0, KEY_SWATCH_1),
]
panel1 = alt.layer(*p1_layers).properties(width=W, height=H1)

# ---------------------------------------------------------------- panel 2
F2 = Frame(
    alt.Scale(domain=[0, 20000], nice=False, zero=False),
    alt.Scale(domain=[3.906, 7.721], nice=False, zero=False),
    turn_axis(TURN_TICKS, 11, 37, 8),
    value_axis([4.0, 4.5, 5.0, 5.5, 6.0, 6.5, 7.0, 7.5], 11, fmt=".1f", label_pad=10),
)

P2_SERIES = [
    ("blue", C["blue"], T_FINE, XX_BLUE), ("orange", C["orange"], T_FINE, XX_ORANGE),
    ("green", C["green"], T_FINE, XX_GREEN), ("red", C["red"], T_FINE, XX_RED),
    ("purple", C["purple"], T_FINE, XX_PURPLE), ("brown", C["brown"], T_FINE, XX_BROWN),
    ("pink", C["pink"], T_FINE, XX_PINK),
]
P2_MID = [
    ("gray", C["gray"], T_COARSE, XX_GRAY), ("olive", C["olive"], T_COARSE, XX_OLIVE),
    ("cyan", C["cyan"], T_COARSE, XX_CYAN),
]
P2_LOW = [
    ("blue-lo", C["blue"], T_COARSE, XX_C_BLUE), ("orange-lo", C["orange"], T_COARSE, XX_C_ORANGE),
    ("green-lo", C["green"], T_COARSE, XX_C_GREEN), ("red-lo", C["red"], T_COARSE, XX_C_RED),
    ("purple-lo", C["purple"], T_COARSE, XX_C_PURPLE), ("brown-lo", C["brown"], T_COARSE, XX_C_BROWN),
]

p2_layers = [
    line_layer(F2, P2_SERIES, 8),
    line_layer(F2, P2_MID, 9),
    line_layer(F2, P2_LOW, 10),
    h_dotted(F2, 6250, 20100, 7.57),
    h_dotted(F2, 6200, 20080, 4.136),
    *v_arrow(F2, 12820, 7.42, 4.23),
    red_label(F2, "Δ<xx> ~ 80 %", 9520, 7.38, size=33),
    pixel_text("1e−10", 0, -5, 10, colour=TICK_GREY, weight="normal", font=SANS, align="left"),
    pixel_text("<xx>", -63, 216, 32, angle=270),
    *beam_key(7, 7, 1.015, KEY_SWATCH_23),
]
panel2 = alt.layer(*p2_layers).properties(width=W, height=H2)

# ---------------------------------------------------------------- panel 3
F3 = Frame(
    alt.Scale(domain=[0, 20000], nice=False, zero=False),
    alt.Scale(type="log", domain=[1.64e-14, 6.76e-12], nice=False),
    turn_axis(TURN_TICKS, 11, 36, 8),
    value_axis([1e-13, 1e-12], 11, label_pad=9,
               label_expr="datum.value < 5e-13 ? '10⁻¹³' : '10⁻¹²'"),
)

P3_SERIES = [
    ("blue", C["blue"], T3, YY_BLUE), ("orange", C["orange"], T3, YY_ORANGE),
    ("green", C["green"], T3, YY_GREEN), ("red", C["red"], T3, YY_RED),
    ("purple", C["purple"], T3, YY_PURPLE), ("brown", C["brown"], T3, YY_BROWN),
    ("pink", C["pink"], T3, YY_PINK), ("gray", C["gray"], T3, YY_GRAY),
    ("olive", C["olive"], T3, YY_OLIVE), ("cyan", C["cyan"], T3, YY_CYAN),
]
P3_LOW = [
    ("blue-lo", C["blue"], T3, YY_C_BLUE), ("orange-lo", C["orange"], T3, YY_C_ORANGE),
    ("green-lo", C["green"], T3, YY_C_GREEN), ("red-lo", C["red"], T3, YY_C_RED),
    ("purple-lo", C["purple"], T3, YY_C_PURPLE), ("brown-lo", C["brown"], T3, YY_C_BROWN),
]

p3_layers = [
    line_layer(F3, P3_SERIES, 5.5, unit=YY_UNIT),
    line_layer(F3, P3_LOW, 7, unit=YY_UNIT),
    h_dotted(F3, 5580, 20000, 53.1 * YY_UNIT),
    h_dotted(F3, 5630, 20000, 0.434 * YY_UNIT),
    *v_arrow(F3, 17400, 49.7 * YY_UNIT, 0.483 * YY_UNIT),
    red_label(F3, "Δ<yy> ~ 980 %", 17240, None, size=33, ypix=-17),
    pixel_text("<yy>", -57, 224, 32, angle=270),
    *beam_key(1, 2, 1.05, KEY_SWATCH_23),
]
panel3 = alt.layer(*p3_layers).properties(width=W, height=H3)

chart = alt.vconcat(panel1, panel2, panel3, spacing=140, bounds="flush").properties(
    padding={"left": 12.5, "top": 7.5, "right": 3, "bottom": 2},
    background="white",
).configure_view(fill=FACE, stroke=None)

chart.save("out.html", embed_options={"renderer": "svg", "actions": False})
